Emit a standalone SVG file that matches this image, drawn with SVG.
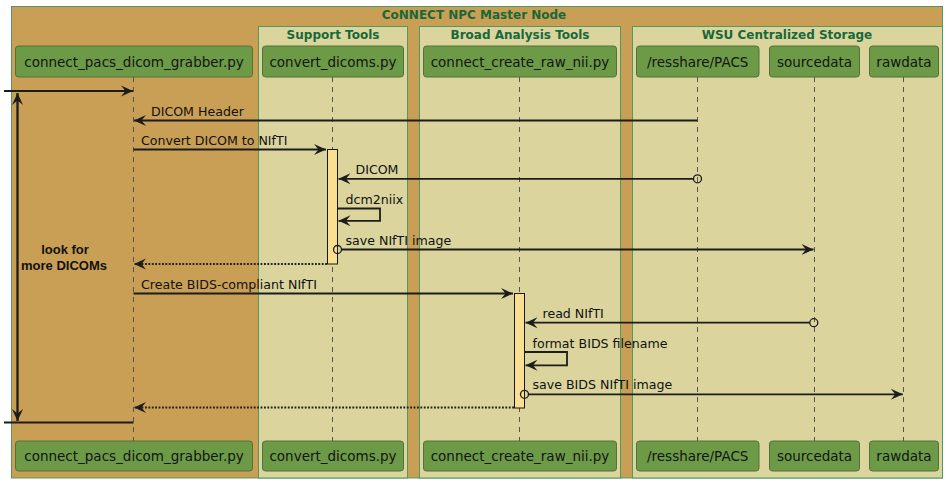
<svg xmlns="http://www.w3.org/2000/svg" width="947" height="483" viewBox="0 0 947 483">
<style>
.grp{stroke:#4f9a63;stroke-width:1}
.gtitle{font-family:"DejaVu Sans",sans-serif;font-weight:bold;font-size:12px;fill:#17683a;text-anchor:middle}
.pbox{fill:#6c9a47;stroke:#55713a;stroke-width:1}
.ptxt{font-family:"DejaVu Sans",sans-serif;font-size:13.5px;fill:#141414;text-anchor:middle}
.life{stroke:#555;stroke-width:1;stroke-dasharray:5,5}
.act{fill:#f9df8f;stroke:#181818;stroke-width:1}
.msg{stroke:#1c1c1c;stroke-width:1.8;fill:none}
.ret{stroke:#1c1c1c;stroke-width:1.8;fill:none;stroke-dasharray:1.8,1.6}
.mtxt{font-family:"DejaVu Sans",sans-serif;font-size:12.6px;fill:#111}
.btxt{font-family:"Liberation Sans",Arial,sans-serif;font-size:13px;font-weight:bold;fill:#111;text-anchor:middle}
.end{fill:none;stroke:#1c1c1c;stroke-width:1.3}
</style>
<defs>
<marker id="ah" viewBox="-13 -6 13 12" refX="0" refY="0" markerWidth="13" markerHeight="12" markerUnits="userSpaceOnUse" orient="auto">
<path d="M0,0 L-12,-5.5 L-7.5,0 L-12,5.5 Z" fill="#1c1c1c"/>
</marker>
</defs>
<rect x="0" y="0" width="947" height="483" fill="#ffffff"/>
<g id="master-node">
<rect class="grp" x="11.5" y="6.5" width="931" height="471.5" fill="#c99f55"/>
<text class="gtitle" x="474" y="19">CoNNECT NPC Master Node</text>
</g>
<g id="support-tools">
<rect class="grp" x="258.5" y="26.5" width="149" height="451.5" fill="#dbd59d"/>
<text class="gtitle" x="333" y="39">Support Tools</text>
</g>
<g id="broad-analysis-tools">
<rect class="grp" x="419.5" y="26.5" width="201" height="451.5" fill="#dbd59d"/>
<text class="gtitle" x="520" y="39">Broad Analysis Tools</text>
</g>
<g id="wsu-storage">
<rect class="grp" x="632.5" y="26.5" width="310" height="451.5" fill="#dbd59d"/>
<text class="gtitle" x="787" y="39">WSU Centralized Storage</text>
</g>
<g id="lifelines">
<line class="life" x1="133.5" y1="77" x2="133.5" y2="441"/>
<line class="life" x1="332.5" y1="77" x2="332.5" y2="441"/>
<line class="life" x1="519.5" y1="77" x2="519.5" y2="441"/>
<line class="life" x1="697.5" y1="77" x2="697.5" y2="441"/>
<line class="life" x1="814.5" y1="77" x2="814.5" y2="441"/>
<line class="life" x1="903.5" y1="77" x2="903.5" y2="441"/>
</g>
<g id="activations">
<rect class="act" x="327.5" y="149.5" width="10" height="114.5"/>
<rect class="act" x="514.5" y="293.5" width="10" height="114.5"/>
</g>
<g id="connectors">
<line class="msg" x1="4" y1="91" x2="133" y2="91" marker-end="url(#ah)"/>
<line class="msg" x1="17.5" y1="421" x2="17.5" y2="93" marker-end="url(#ah)"/>
<line class="msg" x1="17.5" y1="93" x2="17.5" y2="421" marker-end="url(#ah)"/>
<line class="msg" x1="4" y1="422.5" x2="133.5" y2="422.5"/>
<text class="btxt" x="65" y="254">look for</text>
<text class="btxt" x="64" y="269.5">more DICOMs</text>

<line class="msg" x1="697.5" y1="120.5" x2="134" y2="120.5" marker-end="url(#ah)"/>
<text class="mtxt" x="151" y="116">DICOM Header</text>

<line class="msg" x1="133.5" y1="149.5" x2="326" y2="149.5" marker-end="url(#ah)"/>
<text class="mtxt" x="141" y="145">Convert DICOM to NIfTI</text>

<circle class="end" cx="697.5" cy="178.8" r="4"/>
<line class="msg" x1="693.5" y1="178.8" x2="338.5" y2="178.8" marker-end="url(#ah)"/>
<text class="mtxt" x="355.5" y="173.5">DICOM</text>

<path class="msg" d="M337.5,208.5 H380 V220.8 H338.5" marker-end="url(#ah)"/>
<text class="mtxt" x="345.5" y="203.5">dcm2niix</text>

<circle class="end" cx="337.5" cy="249.5" r="4"/>
<line class="msg" x1="341.5" y1="249.5" x2="813.5" y2="249.5" marker-end="url(#ah)"/>
<text class="mtxt" x="345.5" y="244.5">save NIfTI image</text>

<line class="ret" x1="327" y1="264" x2="134" y2="264" marker-end="url(#ah)"/>

<line class="msg" x1="133.5" y1="293.5" x2="513" y2="293.5" marker-end="url(#ah)"/>
<text class="mtxt" x="141" y="289">Create BIDS-compliant NIfTI</text>

<circle class="end" cx="813.8" cy="322.7" r="4"/>
<line class="msg" x1="809.8" y1="322.7" x2="525.5" y2="322.7" marker-end="url(#ah)"/>
<text class="mtxt" x="542.5" y="318">read NIfTI</text>

<path class="msg" d="M524.5,352 H567 V365.3 H525.5" marker-end="url(#ah)"/>
<text class="mtxt" x="532.5" y="347.5">format BIDS filename</text>

<circle class="end" cx="524.5" cy="394.3" r="4"/>
<line class="msg" x1="528.5" y1="394.3" x2="902.8" y2="394.3" marker-end="url(#ah)"/>
<text class="mtxt" x="532.5" y="389">save BIDS NIfTI image</text>

<line class="ret" x1="514" y1="407.5" x2="134" y2="407.5" marker-end="url(#ah)"/>
</g>
<g id="p-grabber">
<rect class="pbox" x="15.5" y="46" width="237" height="31" rx="3"/>
<text class="ptxt" x="134" y="66.5">connect_pacs_dicom_grabber.py</text>
<rect class="pbox" x="15.5" y="441" width="237" height="30" rx="3"/>
<text class="ptxt" x="134" y="461">connect_pacs_dicom_grabber.py</text>
</g>
<g id="p-convert">
<rect class="pbox" x="262.5" y="46" width="141" height="31" rx="3"/>
<text class="ptxt" x="333" y="66.5">convert_dicoms.py</text>
<rect class="pbox" x="262.5" y="441" width="141" height="30" rx="3"/>
<text class="ptxt" x="333" y="461">convert_dicoms.py</text>
</g>
<g id="p-create">
<rect class="pbox" x="423.5" y="46" width="193" height="31" rx="3"/>
<text class="ptxt" x="520" y="66.5">connect_create_raw_nii.py</text>
<rect class="pbox" x="423.5" y="441" width="193" height="30" rx="3"/>
<text class="ptxt" x="520" y="461">connect_create_raw_nii.py</text>
</g>
<g id="p-pacs">
<rect class="pbox" x="636.5" y="46" width="122.5" height="31" rx="3"/>
<text class="ptxt" x="697.7" y="66.5">/resshare/PACS</text>
<rect class="pbox" x="636.5" y="441" width="122.5" height="30" rx="3"/>
<text class="ptxt" x="697.7" y="461">/resshare/PACS</text>
</g>
<g id="p-sourcedata">
<rect class="pbox" x="769.5" y="46" width="90" height="31" rx="3"/>
<text class="ptxt" x="814.5" y="66.5">sourcedata</text>
<rect class="pbox" x="769.5" y="441" width="90" height="30" rx="3"/>
<text class="ptxt" x="814.5" y="461">sourcedata</text>
</g>
<g id="p-rawdata">
<rect class="pbox" x="869.5" y="46" width="69" height="31" rx="3"/>
<text class="ptxt" x="904" y="66.5">rawdata</text>
<rect class="pbox" x="869.5" y="441" width="69" height="30" rx="3"/>
<text class="ptxt" x="904" y="461">rawdata</text>
</g>
</svg>
